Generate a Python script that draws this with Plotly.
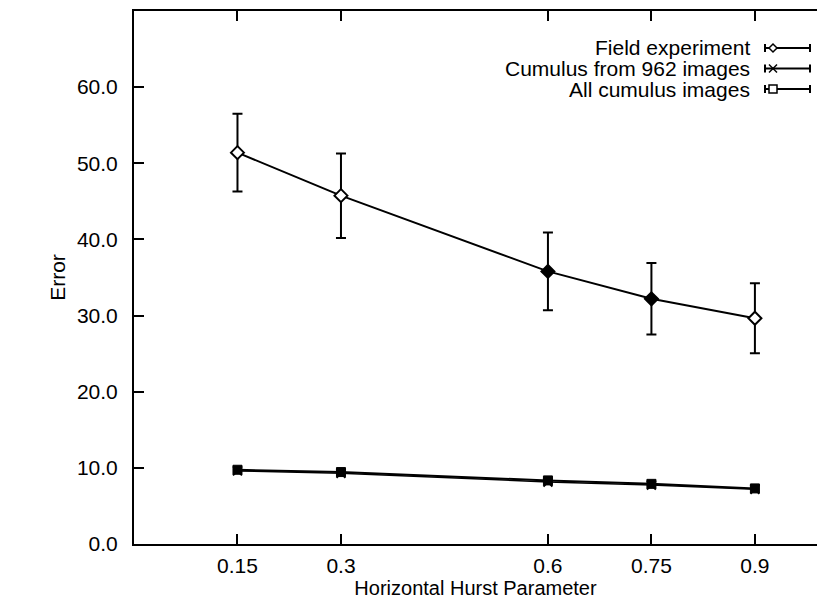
import plotly.graph_objects as go

# ---- data ----
hurst = [0.15, 0.3, 0.6, 0.75, 0.9]
x_tick_labels = ["0.15", "0.3", "0.6", "0.75", "0.9"]
y_tick_vals = [0, 10, 20, 30, 40, 50, 60]
y_tick_labels = ["0.0", "10.0", "20.0", "30.0", "40.0", "50.0", "60.0"]

series_names = ["Field experiment", "Cumulus from 962 images", "All cumulus images"]
field_err = [51.4, 45.75, 35.8, 32.2, 29.65]
field_sd = [5.1, 5.55, 5.1, 4.7, 4.6]
cum962_err = [9.6, 9.3, 8.15, 7.75, 7.2]
cum962_sd = [0.3, 0.3, 0.3, 0.3, 0.3]
allcum_err = [9.75, 9.45, 8.35, 7.9, 7.3]
allcum_sd = [0.3, 0.3, 0.3, 0.3, 0.3]

# ---- layout geometry (pixels) ----
W, H = 817, 599
L, R, T, B = 134, 0, 11, 55
PW, PH = W - L - R, H - T - B
FONT = "Liberation Sans, Arial, Helvetica, sans-serif"
FS = 21


def px_x(px):
    return (px - L) / PW


def px_y(py):
    return (H - B - py) / PH


fig = go.Figure()

field_fill = ["white", "white", "black", "black", "white"]

fig.add_trace(go.Scatter(
    x=hurst, y=field_err, name=series_names[0], mode="lines+markers",
    line=dict(color="black", width=2),
    marker=dict(symbol="diamond", size=10, color=field_fill,
                line=dict(color="black", width=2)),
    error_y=dict(type="data", array=field_sd, visible=True, color="black",
                 thickness=2, width=5),
    showlegend=False,
))
fig.add_trace(go.Scatter(
    x=hurst, y=allcum_err, name=series_names[2], mode="lines+markers",
    line=dict(color="black", width=2),
    marker=dict(symbol="square", size=9, color="black",
                line=dict(color="black", width=1)),
    error_y=dict(type="data", array=allcum_sd, visible=True, color="black",
                 thickness=1.5, width=4),
    showlegend=False,
))
fig.add_trace(go.Scatter(
    x=hurst, y=cum962_err, name=series_names[1], mode="lines+markers",
    line=dict(color="black", width=1.5),
    marker=dict(symbol="x-thin", size=9, color="black",
                line=dict(color="black", width=2)),
    error_y=dict(type="data", array=cum962_sd, visible=True, color="black",
                 thickness=1.5, width=4),
    showlegend=False,
))

# ---- manual legend (text on the left, sample on the right) ----
shapes = []
annotations = []
row_y = [48, 68.5, 89]
text_right = 752
s_left, s_right, s_mark = 765, 810, 773
for i, name in enumerate(series_names):
    yy = row_y[i]
    annotations.append(dict(
        x=px_x(text_right), y=px_y(yy), xref="paper", yref="paper",
        text=name, showarrow=False, xanchor="right", yanchor="middle",
        font=dict(family=FONT, size=FS, color="black"),
    ))
    line_style = dict(color="black", width=2)
    shapes.append(dict(type="line", xref="paper", yref="paper",
                       x0=px_x(s_left), x1=px_x(s_right), y0=px_y(yy), y1=px_y(yy),
                       line=line_style))
    for cx in (s_left, s_right):
        shapes.append(dict(type="line", xref="paper", yref="paper",
                           x0=px_x(cx), x1=px_x(cx), y0=px_y(yy - 4), y1=px_y(yy + 4),
                           line=line_style))
    m = 4
    if i == 0:
        shapes.append(dict(type="path", xref="paper", yref="paper",
                           path="M {},{} L {},{} L {},{} L {},{} Z".format(
                               px_x(s_mark - m), px_y(yy), px_x(s_mark), px_y(yy - m),
                               px_x(s_mark + m), px_y(yy), px_x(s_mark), px_y(yy + m)),
                           fillcolor="white", line=dict(color="black", width=1.5)))
    elif i == 1:
        for dy in (-1, 1):
            shapes.append(dict(type="line", xref="paper", yref="paper",
                               x0=px_x(s_mark - m), x1=px_x(s_mark + m),
                               y0=px_y(yy - dy * m), y1=px_y(yy + dy * m),
                               line=dict(color="black", width=1.5)))
    else:
        shapes.append(dict(type="rect", xref="paper", yref="paper",
                           x0=px_x(s_mark - m), x1=px_x(s_mark + m),
                           y0=px_y(yy - m), y1=px_y(yy + m),
                           fillcolor="white", line=dict(color="black", width=1.5)))

tick_style = dict(ticks="inside", ticklen=10, tickwidth=1.5, tickcolor="black",
                  showgrid=False, zeroline=False)

fig.update_layout(
    width=W, height=H,
    margin=dict(l=L, r=R, t=T, b=B),
    paper_bgcolor="white", plot_bgcolor="white",
    showlegend=False,
    xaxis=dict(range=[0, 0.99], tickvals=hurst, ticktext=x_tick_labels,
               showline=True, linecolor="black", linewidth=2, mirror="ticks",
               ticklabelstandoff=2,
               tickfont=dict(family=FONT, size=FS, color="black"),
               title=dict(text="Horizontal Hurst Parameter", standoff=1,
                          font=dict(family=FONT, size=20, color="black")),
               **tick_style),
    yaxis=dict(range=[0, 70], tickvals=y_tick_vals, ticktext=y_tick_labels,
               showline=True, linecolor="black", linewidth=2, mirror=False,
               ticklabelstandoff=10,
               tickfont=dict(family=FONT, size=FS, color="black"),
               title=dict(text="Error", standoff=6,
                          font=dict(family=FONT, size=FS, color="black")),
               **tick_style),
    yaxis2=dict(range=[0, 70], tickvals=y_tick_vals, overlaying="y", side="right",
                showline=False, showticklabels=False, **tick_style),
    shapes=shapes,
    annotations=annotations,
)

fig.write_html("out.html")
